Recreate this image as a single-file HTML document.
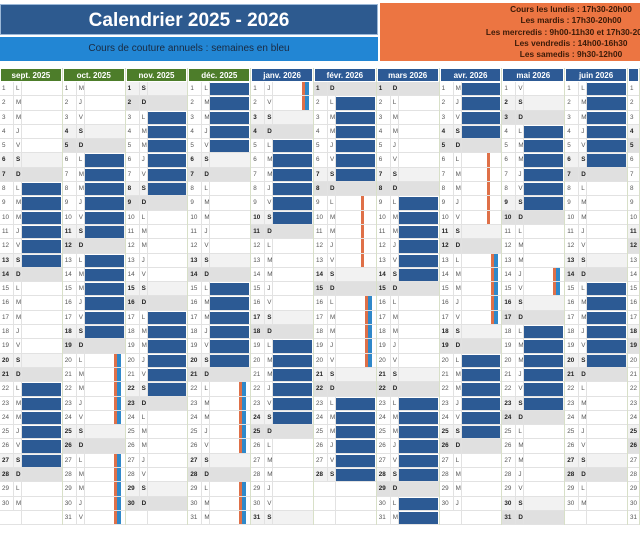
<!DOCTYPE html>
<html><head><meta charset="utf-8"><style>
*{margin:0;padding:0;box-sizing:border-box}
body{width:640px;height:540px;overflow:hidden;background:#fff;font-family:"Liberation Sans",sans-serif;position:relative}
#t{position:absolute;left:0;top:4px;width:378px;height:31px;background:#2d5a8f;color:#fff;font-weight:bold;font-size:19px;text-align:center;line-height:31px;border:1px solid #9bb8d8}
#st{position:absolute;left:0;top:37px;width:378px;height:24px;background:#2286d4;color:#1a2a40;font-size:10px;text-align:center;line-height:24px}
#o{position:absolute;left:380px;top:3px;width:260px;height:58px;background:#ec7542;overflow:hidden}
#o div{position:absolute;left:0;top:1px;width:382px;text-align:center;font-size:8.3px;font-weight:bold;color:#3a1a08;line-height:11.3px;white-space:nowrap}
.m{position:absolute;top:68px;width:62.8px;border-right:1px solid #d8e0c8;overflow:hidden}
.m h3{height:14px;background:#4d7d2a;color:#fff;font-size:8px;font-weight:bold;text-align:center;line-height:14px;border:1px solid #fff}
.m h3.j{background:#2d5a95}
.m p{position:relative;height:14.3px;font-size:6.3px;color:#555;line-height:14px;border-bottom:1px solid #e2e2e2;padding-left:2px;white-space:nowrap}
.m p u{text-decoration:none;display:inline-block;width:12px;border-right:1px solid #e2e2e2;margin-right:2px}
.m p::before{content:"";position:absolute;left:21px;top:0;bottom:0;width:1px;background:#e2e2e2}
.m p.s{background:#f2f2f2;font-weight:bold;color:#222}
.m p.d{background:#e0e0e0;font-weight:bold;color:#222}
.m p.b::after{content:"";position:absolute;left:22px;right:1px;top:1px;bottom:0;background:#2c5a94}
.m p.x::after{content:"";position:absolute;left:51px;width:7px;top:0;bottom:0;background:linear-gradient(90deg,#df7048 0 3px,#2f88c9 3px)}
.m p.y::after{content:"";position:absolute;left:47px;width:3px;top:0;bottom:0;background:#df7048}
</style></head><body>
<div id="t">Calendrier 2025 - 2026</div>
<div id="st">Cours de couture annuels : semaines en bleu</div>
<div id="o"><div>Cours les lundis : 17h30-20h00<br>Les mardis : 17h30-20h00<br>Les mercredis : 9h00-11h30 et 17h30-20h00<br>Les vendredis : 14h00-16h30<br>Les samedis : 9h30-12h00</div></div>

<div class="m" style="left:0"><h3>sept. 2025</h3>
<p><u>1</u>L</p><p><u>2</u>M</p><p><u>3</u>M</p><p><u>4</u>J</p><p><u>5</u>V</p><p class="s"><u>6</u>S</p><p class="d"><u>7</u>D</p><p class="b"><u>8</u>L</p><p class="b"><u>9</u>M</p><p class="b"><u>10</u>M</p><p class="b"><u>11</u>J</p><p class="b"><u>12</u>V</p><p class="s b"><u>13</u>S</p><p class="d"><u>14</u>D</p><p><u>15</u>L</p><p><u>16</u>M</p><p><u>17</u>M</p><p><u>18</u>J</p><p><u>19</u>V</p><p class="s"><u>20</u>S</p><p class="d"><u>21</u>D</p><p class="b"><u>22</u>L</p><p class="b"><u>23</u>M</p><p class="b"><u>24</u>M</p><p class="b"><u>25</u>J</p><p class="b"><u>26</u>V</p><p class="s b"><u>27</u>S</p><p class="d"><u>28</u>D</p><p><u>29</u>L</p><p><u>30</u>M</p><p><u></u></p></div>

<div class="m" style="left:62.8px"><h3>oct. 2025</h3>
<p><u>1</u>M</p><p><u>2</u>J</p><p><u>3</u>V</p><p class="s"><u>4</u>S</p><p class="d"><u>5</u>D</p><p class="b"><u>6</u>L</p><p class="b"><u>7</u>M</p><p class="b"><u>8</u>M</p><p class="b"><u>9</u>J</p><p class="b"><u>10</u>V</p><p class="s b"><u>11</u>S</p><p class="d"><u>12</u>D</p><p class="b"><u>13</u>L</p><p class="b"><u>14</u>M</p><p class="b"><u>15</u>M</p><p class="b"><u>16</u>J</p><p class="b"><u>17</u>V</p><p class="s b"><u>18</u>S</p><p class="d"><u>19</u>D</p><p class="x"><u>20</u>L</p><p class="x"><u>21</u>M</p><p class="x"><u>22</u>M</p><p class="x"><u>23</u>J</p><p class="x"><u>24</u>V</p><p class="s"><u>25</u>S</p><p class="d"><u>26</u>D</p><p class="x"><u>27</u>L</p><p class="x"><u>28</u>M</p><p class="x"><u>29</u>M</p><p class="x"><u>30</u>J</p><p class="x"><u>31</u>V</p></div>

<div class="m" style="left:125.6px"><h3>nov. 2025</h3>
<p class="s"><u>1</u>S</p><p class="d"><u>2</u>D</p><p class="b"><u>3</u>L</p><p class="b"><u>4</u>M</p><p class="b"><u>5</u>M</p><p class="b"><u>6</u>J</p><p class="b"><u>7</u>V</p><p class="s b"><u>8</u>S</p><p class="d"><u>9</u>D</p><p><u>10</u>L</p><p><u>11</u>M</p><p><u>12</u>M</p><p><u>13</u>J</p><p><u>14</u>V</p><p class="s"><u>15</u>S</p><p class="d"><u>16</u>D</p><p class="b"><u>17</u>L</p><p class="b"><u>18</u>M</p><p class="b"><u>19</u>M</p><p class="b"><u>20</u>J</p><p class="b"><u>21</u>V</p><p class="s b"><u>22</u>S</p><p class="d"><u>23</u>D</p><p><u>24</u>L</p><p><u>25</u>M</p><p><u>26</u>M</p><p><u>27</u>J</p><p><u>28</u>V</p><p class="s"><u>29</u>S</p><p class="d"><u>30</u>D</p><p><u></u></p></div>

<div class="m" style="left:188.4px"><h3>déc. 2025</h3>
<p class="b"><u>1</u>L</p><p class="b"><u>2</u>M</p><p class="b"><u>3</u>M</p><p class="b"><u>4</u>J</p><p class="b"><u>5</u>V</p><p class="s"><u>6</u>S</p><p class="d"><u>7</u>D</p><p><u>8</u>L</p><p><u>9</u>M</p><p><u>10</u>M</p><p><u>11</u>J</p><p><u>12</u>V</p><p class="s"><u>13</u>S</p><p class="d"><u>14</u>D</p><p class="b"><u>15</u>L</p><p class="b"><u>16</u>M</p><p class="b"><u>17</u>M</p><p class="b"><u>18</u>J</p><p class="b"><u>19</u>V</p><p class="s b"><u>20</u>S</p><p class="d"><u>21</u>D</p><p class="x"><u>22</u>L</p><p class="x"><u>23</u>M</p><p class="x"><u>24</u>M</p><p class="x"><u>25</u>J</p><p class="x"><u>26</u>V</p><p class="s"><u>27</u>S</p><p class="d"><u>28</u>D</p><p class="x"><u>29</u>L</p><p class="x"><u>30</u>M</p><p class="x"><u>31</u>M</p></div>

<div class="m" style="left:251.2px"><h3 class="j">janv. 2026</h3>
<p class="x"><u>1</u>J</p><p class="x"><u>2</u>V</p><p class="s"><u>3</u>S</p><p class="d"><u>4</u>D</p><p class="b"><u>5</u>L</p><p class="b"><u>6</u>M</p><p class="b"><u>7</u>M</p><p class="b"><u>8</u>J</p><p class="b"><u>9</u>V</p><p class="s b"><u>10</u>S</p><p class="d"><u>11</u>D</p><p><u>12</u>L</p><p><u>13</u>M</p><p><u>14</u>M</p><p><u>15</u>J</p><p><u>16</u>V</p><p class="s"><u>17</u>S</p><p class="d"><u>18</u>D</p><p class="b"><u>19</u>L</p><p class="b"><u>20</u>M</p><p class="b"><u>21</u>M</p><p class="b"><u>22</u>J</p><p class="b"><u>23</u>V</p><p class="s b"><u>24</u>S</p><p class="d"><u>25</u>D</p><p><u>26</u>L</p><p><u>27</u>M</p><p><u>28</u>M</p><p><u>29</u>J</p><p><u>30</u>V</p><p class="s"><u>31</u>S</p></div>

<div class="m" style="left:314px"><h3 class="j">févr. 2026</h3>
<p class="d"><u>1</u>D</p><p class="b"><u>2</u>L</p><p class="b"><u>3</u>M</p><p class="b"><u>4</u>M</p><p class="b"><u>5</u>J</p><p class="b"><u>6</u>V</p><p class="s b"><u>7</u>S</p><p class="d"><u>8</u>D</p><p class="y"><u>9</u>L</p><p class="y"><u>10</u>M</p><p class="y"><u>11</u>M</p><p class="y"><u>12</u>J</p><p class="y"><u>13</u>V</p><p class="s"><u>14</u>S</p><p class="d"><u>15</u>D</p><p class="x"><u>16</u>L</p><p class="x"><u>17</u>M</p><p class="x"><u>18</u>M</p><p class="x"><u>19</u>J</p><p class="x"><u>20</u>V</p><p class="s"><u>21</u>S</p><p class="d"><u>22</u>D</p><p class="b"><u>23</u>L</p><p class="b"><u>24</u>M</p><p class="b"><u>25</u>M</p><p class="b"><u>26</u>J</p><p class="b"><u>27</u>V</p><p class="s b"><u>28</u>S</p><p><u></u></p><p><u></u></p><p><u></u></p></div>

<div class="m" style="left:376.8px"><h3 class="j">mars 2026</h3>
<p class="d"><u>1</u>D</p><p><u>2</u>L</p><p><u>3</u>M</p><p><u>4</u>M</p><p><u>5</u>J</p><p><u>6</u>V</p><p class="s"><u>7</u>S</p><p class="d"><u>8</u>D</p><p class="b"><u>9</u>L</p><p class="b"><u>10</u>M</p><p class="b"><u>11</u>M</p><p class="b"><u>12</u>J</p><p class="b"><u>13</u>V</p><p class="s b"><u>14</u>S</p><p class="d"><u>15</u>D</p><p><u>16</u>L</p><p><u>17</u>M</p><p><u>18</u>M</p><p><u>19</u>J</p><p><u>20</u>V</p><p class="s"><u>21</u>S</p><p class="d"><u>22</u>D</p><p class="b"><u>23</u>L</p><p class="b"><u>24</u>M</p><p class="b"><u>25</u>M</p><p class="b"><u>26</u>J</p><p class="b"><u>27</u>V</p><p class="s b"><u>28</u>S</p><p class="d"><u>29</u>D</p><p class="b"><u>30</u>L</p><p class="b"><u>31</u>M</p></div>

<div class="m" style="left:439.6px"><h3 class="j">avr. 2026</h3>
<p class="b"><u>1</u>M</p><p class="b"><u>2</u>J</p><p class="b"><u>3</u>V</p><p class="s b"><u>4</u>S</p><p class="d"><u>5</u>D</p><p class="y"><u>6</u>L</p><p class="y"><u>7</u>M</p><p class="y"><u>8</u>M</p><p class="y"><u>9</u>J</p><p class="y"><u>10</u>V</p><p class="s"><u>11</u>S</p><p class="d"><u>12</u>D</p><p class="x"><u>13</u>L</p><p class="x"><u>14</u>M</p><p class="x"><u>15</u>M</p><p class="x"><u>16</u>J</p><p class="x"><u>17</u>V</p><p class="s"><u>18</u>S</p><p class="d"><u>19</u>D</p><p class="b"><u>20</u>L</p><p class="b"><u>21</u>M</p><p class="b"><u>22</u>M</p><p class="b"><u>23</u>J</p><p class="b"><u>24</u>V</p><p class="s b"><u>25</u>S</p><p class="d"><u>26</u>D</p><p><u>27</u>L</p><p><u>28</u>M</p><p><u>29</u>M</p><p><u>30</u>J</p><p><u></u></p></div>

<div class="m" style="left:502.4px"><h3 class="j">mai 2026</h3>
<p><u>1</u>V</p><p class="s"><u>2</u>S</p><p class="d"><u>3</u>D</p><p class="b"><u>4</u>L</p><p class="b"><u>5</u>M</p><p class="b"><u>6</u>M</p><p class="b"><u>7</u>J</p><p class="b"><u>8</u>V</p><p class="s b"><u>9</u>S</p><p class="d"><u>10</u>D</p><p><u>11</u>L</p><p><u>12</u>M</p><p><u>13</u>M</p><p class="x"><u>14</u>J</p><p class="x"><u>15</u>V</p><p class="s"><u>16</u>S</p><p class="d"><u>17</u>D</p><p class="b"><u>18</u>L</p><p class="b"><u>19</u>M</p><p class="b"><u>20</u>M</p><p class="b"><u>21</u>J</p><p class="b"><u>22</u>V</p><p class="s b"><u>23</u>S</p><p class="d"><u>24</u>D</p><p><u>25</u>L</p><p><u>26</u>M</p><p><u>27</u>M</p><p><u>28</u>J</p><p><u>29</u>V</p><p class="s"><u>30</u>S</p><p class="d"><u>31</u>D</p></div>

<div class="m" style="left:565.2px"><h3 class="j">juin 2026</h3>
<p class="b"><u>1</u>L</p><p class="b"><u>2</u>M</p><p class="b"><u>3</u>M</p><p class="b"><u>4</u>J</p><p class="b"><u>5</u>V</p><p class="s b"><u>6</u>S</p><p class="d"><u>7</u>D</p><p><u>8</u>L</p><p><u>9</u>M</p><p><u>10</u>M</p><p><u>11</u>J</p><p><u>12</u>V</p><p class="s"><u>13</u>S</p><p class="d"><u>14</u>D</p><p class="b"><u>15</u>L</p><p class="b"><u>16</u>M</p><p class="b"><u>17</u>M</p><p class="b"><u>18</u>J</p><p class="b"><u>19</u>V</p><p class="s b"><u>20</u>S</p><p class="d"><u>21</u>D</p><p><u>22</u>L</p><p><u>23</u>M</p><p><u>24</u>M</p><p><u>25</u>J</p><p><u>26</u>V</p><p class="s"><u>27</u>S</p><p class="d"><u>28</u>D</p><p><u>29</u>L</p><p><u>30</u>M</p><p><u></u></p></div>

<div class="m" style="left:628px;width:12px"><h3 class="j">&nbsp;</h3>
<p><u>1</u></p><p><u>2</u></p><p><u>3</u></p><p class="s"><u>4</u></p><p class="d"><u>5</u></p><p><u>6</u></p><p><u>7</u></p><p><u>8</u></p><p><u>9</u></p><p><u>10</u></p><p class="s"><u>11</u></p><p class="d"><u>12</u></p><p><u>13</u></p><p><u>14</u></p><p><u>15</u></p><p><u>16</u></p><p><u>17</u></p><p class="s"><u>18</u></p><p class="d"><u>19</u></p><p><u>20</u></p><p><u>21</u></p><p><u>22</u></p><p><u>23</u></p><p><u>24</u></p><p class="s"><u>25</u></p><p class="d"><u>26</u></p><p><u>27</u></p><p><u>28</u></p><p><u>29</u></p><p><u>30</u></p><p><u>31</u></p></div>
</body></html>
